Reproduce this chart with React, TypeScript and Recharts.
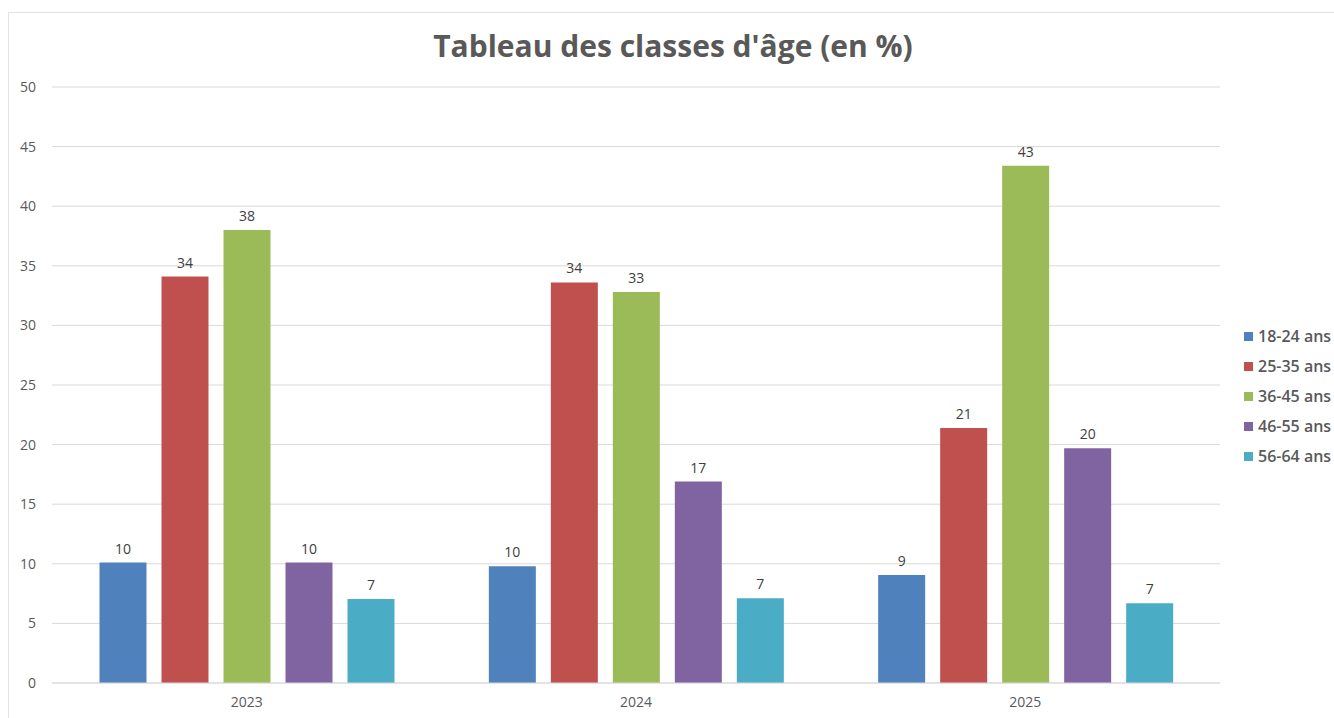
import { Bar, BarChart, CartesianGrid, LabelList, Legend, XAxis, YAxis } from "recharts";

const years = ["2023", "2024", "2025"];
const ageGroups = ["18-24 ans", "25-35 ans", "36-45 ans", "46-55 ans", "56-64 ans"];
const colors = ["#4f81bd", "#c0504d", "#9bbb59", "#8064a2", "#4bacc6"];

const age18_24 = [10.1, 9.8, 9.05];
const age25_35 = [34.1, 33.6, 21.4];
const age36_45 = [38.0, 32.8, 43.4];
const age46_55 = [10.1, 16.9, 19.7];
const age56_64 = [7.05, 7.1, 6.7];

const series = [age18_24, age25_35, age36_45, age46_55, age56_64];
const yTicks = [0, 5, 10, 15, 20, 25, 30, 35, 40, 45, 50];

const data = years.map((year, i) => {
  const row: Record<string, string | number> = { year };
  ageGroups.forEach((g, s) => {
    row[g] = series[s][i];
  });
  return row;
});

const font = "'Open Sans', sans-serif";

const LegendContent = () => (
  <div style={{ fontFamily: font, paddingLeft: 10 }}>
    {ageGroups.map((g, i) => (
      <div
        key={g}
        style={{ display: "flex", alignItems: "center", height: 30, fontSize: 16, fontWeight: 600, color: "#595959", whiteSpace: "nowrap" }}
      >
        <span style={{ width: 9, height: 9, background: colors[i], marginRight: 5, display: "inline-block" }} />
        {g}
      </div>
    ))}
  </div>
);

export default function App() {
  return (
    <div style={{ position: "absolute", left: 0, top: 0, width: 1334, height: 718, background: "#fff", overflow: "hidden" }}>
      <div
        style={{
          position: "absolute",
          left: 8,
          top: 12,
          width: 1340,
          height: 720,
          border: "1px solid #e3e3e3",
          boxSizing: "border-box",
        }}
      />
      <div
        style={{
          position: "absolute",
          left: 0,
          top: 25,
          width: 1346,
          textAlign: "center",
          fontFamily: font,
          fontWeight: 700,
          fontSize: 30,
          color: "#595959",
        }}
      >
        Tableau des classes d'âge (en %)
      </div>
      <div style={{ position: "absolute", left: 0, top: 0 }}>
        <BarChart
          width={1334}
          height={718}
          data={data}
          margin={{ top: 87, right: 14, bottom: 5, left: 0 }}
          barCategoryGap="12.2%"
          barGap={15}
        >
          <CartesianGrid vertical={false} stroke="#d9d9d9" />
          <XAxis
            dataKey="year"
            axisLine={{ stroke: "#d9d9d9" }}
            tickLine={false}
            tick={{ fill: "#595959", fontSize: 14, fontFamily: font }}
            tickMargin={8}
          />
          <YAxis
            width={52}
            domain={[0, 50]}
            ticks={yTicks}
            axisLine={false}
            tickLine={false}
            tickMargin={10}
            tick={{ fill: "#595959", fontSize: 14, fontFamily: font }}
          />
          <Legend
            layout="vertical"
            align="right"
            verticalAlign="middle"
            content={<LegendContent />}
            wrapperStyle={{ right: 0, width: 100, top: 321 }}
          />
          {ageGroups.map((g, i) => (
            <Bar key={g} dataKey={g} fill={colors[i]} isAnimationActive={false}>
              <LabelList
                dataKey={g}
                position="top"
                offset={9}
                formatter={(v: number) => Math.round(v)}
                style={{ fill: "#404040", fontSize: 14, fontFamily: font }}
              />
            </Bar>
          ))}
        </BarChart>
      </div>
    </div>
  );
}
